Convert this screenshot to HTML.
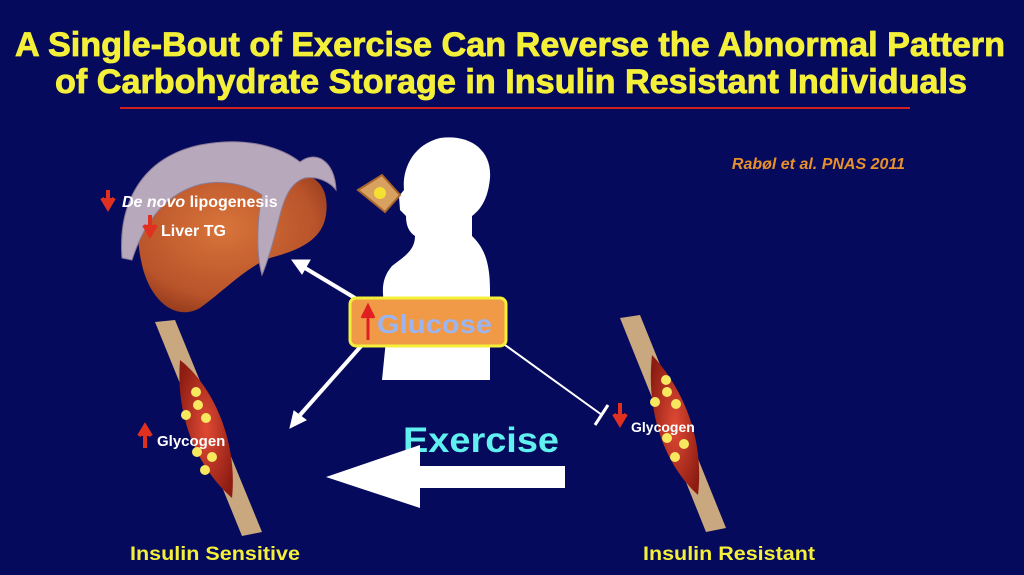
<!DOCTYPE html>
<html><head><meta charset="utf-8"><style>
html,body{margin:0;padding:0;background:#050a5c;}
svg{display:block;font-family:"Liberation Sans",sans-serif;}
</style></head><body>
<svg width="1024" height="575" viewBox="0 0 1024 575" xmlns="http://www.w3.org/2000/svg">
<defs>
<radialGradient id="liv" cx="0.45" cy="0.4" r="0.7"><stop offset="0" stop-color="#d8743a"/><stop offset="0.7" stop-color="#b9532a"/><stop offset="1" stop-color="#8a3418"/></radialGradient>
<radialGradient id="mus" cx="0.5" cy="0.5" r="0.6"><stop offset="0" stop-color="#e04a34"/><stop offset="1" stop-color="#8c1c12"/></radialGradient>
</defs>
<rect width="1024" height="575" fill="#050a5c"/>
<g font-weight="bold" fill="#f4f03a" font-size="34" text-anchor="middle" stroke="#f4f03a" stroke-width="0.8">
<text x="510" y="56" textLength="990" lengthAdjust="spacingAndGlyphs">A Single-Bout of Exercise Can Reverse the Abnormal Pattern</text>
<text x="511" y="93" textLength="912" lengthAdjust="spacingAndGlyphs">of Carbohydrate Storage in Insulin Resistant Individuals</text>
</g>
<line x1="120" y1="108" x2="910" y2="108" stroke="#d02020" stroke-width="2"/>
<text x="905" y="169" text-anchor="end" font-size="16" font-weight="bold" font-style="italic" fill="#e8902a">Rabøl et al. PNAS 2011</text>
<!-- liver -->
<path d="M150,190 C170,165 240,175 280,172 C315,170 330,185 326,215 C322,240 300,250 270,258 C245,268 225,290 200,308 C175,322 150,300 142,265 C135,235 138,210 150,190Z" fill="url(#liv)"/>
<path d="M122,258 C118,205 140,158 200,145 C250,135 285,150 300,162 C315,150 335,160 336,190 C330,182 318,176 305,178 C292,182 285,195 280,215 C275,235 270,255 262,275 C255,250 258,215 262,195 C248,185 215,175 185,190 C155,205 140,235 132,260Z" fill="#b8a8bc" stroke="#8c7c96" stroke-width="1"/>
<path d="M108,190 v12 M102,198 l6,10 6,-10" stroke="#e03020" stroke-width="4" fill="#e03020"/>
<text x="122" y="207" font-size="16" font-weight="bold" fill="#fff"><tspan font-style="italic">De novo</tspan> lipogenesis</text>
<path d="M150,215 v14 M144,225 l6,10 6,-10" stroke="#e03020" stroke-width="4" fill="#e03020"/>
<text x="161" y="236" font-size="16" font-weight="bold" fill="#fff">Liver TG</text>
<!-- person -->
<path d="M440,138 C470,134 492,150 490,178 C488,200 480,210 472,216 L472,236 C482,246 490,258 490,290 L490,380 L382,380 L388,320 C383,300 378,282 392,266 C405,256 415,250 415,236 C409,232 406,226 406,216 L400,210 L399,196 L404,190 C402,170 412,145 440,138Z" fill="#fff"/>
<!-- toast -->
<path d="M358,190 L382,175 L400,195 L385,212 Z" fill="#d9a160" stroke="#a8662a" stroke-width="2"/>
<circle cx="380" cy="193" r="6" fill="#f4e030"/>
<!-- arrows -->
<g stroke="#fff" stroke-width="4" fill="#fff">
<line x1="355" y1="298" x2="305" y2="268"/>
<path d="M292,260 l18,0 -8,14Z" stroke-width="1"/>
<line x1="362" y1="345" x2="300" y2="415"/>
<path d="M290,428 l4,-17 12,9Z" stroke-width="1"/>
</g>
<line x1="505" y1="345" x2="602" y2="415" stroke="#fff" stroke-width="2"/>
<line x1="595" y1="425" x2="608" y2="405" stroke="#fff" stroke-width="3"/>
<!-- glucose box -->
<rect x="350" y="298" width="156" height="48" rx="6" fill="#f09a48" stroke="#f4f03a" stroke-width="3"/>
<path d="M368,340 v-25 M362,318 l6,-12 6,12" stroke="#e02020" stroke-width="3" fill="#e02020"/>
<text x="377" y="333" font-size="26" font-weight="bold" fill="#9cb4f0" textLength="115" lengthAdjust="spacingAndGlyphs">Glucose</text>
<!-- exercise -->
<text x="403" y="452" font-size="35" font-weight="bold" fill="#60f0f0" textLength="156" lengthAdjust="spacingAndGlyphs">Exercise</text>
<path d="M565,466 L420,466 L420,445 L326,477 L420,508 L420,488 L565,488Z" fill="#fff"/>
<!-- left muscle -->
<path d="M155,322 L175,320 L262,532 L242,536Z" fill="#c9a880"/>
<path d="M180,360 C212,385 238,440 232,498 C200,470 175,420 180,360Z" fill="url(#mus)"/>
<g fill="#f8e860"><circle cx="196" cy="392" r="5"/><circle cx="198" cy="405" r="5"/><circle cx="186" cy="415" r="5"/><circle cx="206" cy="418" r="5"/><circle cx="197" cy="452" r="5"/><circle cx="212" cy="457" r="5"/><circle cx="205" cy="470" r="5"/></g>
<path d="M145,448 v-14 M139,436 l6,-10 6,10" stroke="#e03020" stroke-width="4" fill="#e03020"/>
<text x="157" y="446" font-size="15" font-weight="bold" fill="#fff">Glycogen</text>
<!-- right muscle -->
<path d="M620,318 L640,315 L726,528 L706,532Z" fill="#c9a880"/>
<path d="M652,355 C680,385 705,435 698,495 C670,470 645,420 652,355Z" fill="url(#mus)"/>
<g fill="#f8e860"><circle cx="666" cy="380" r="5"/><circle cx="667" cy="392" r="5"/><circle cx="655" cy="402" r="5"/><circle cx="676" cy="404" r="5"/><circle cx="667" cy="438" r="5"/><circle cx="684" cy="444" r="5"/><circle cx="675" cy="457" r="5"/></g>
<path d="M620,403 v14 M614,414 l6,10 6,-10" stroke="#e03020" stroke-width="4" fill="#e03020"/>
<text x="631" y="432" font-size="14" font-weight="bold" fill="#fff">Glycogen</text>
<g font-size="19" font-weight="bold" fill="#f4f03a">
<text x="130" y="560" textLength="170" lengthAdjust="spacingAndGlyphs">Insulin Sensitive</text>
<text x="643" y="560" textLength="172" lengthAdjust="spacingAndGlyphs">Insulin Resistant</text>
</g>
</svg>
</body></html>
